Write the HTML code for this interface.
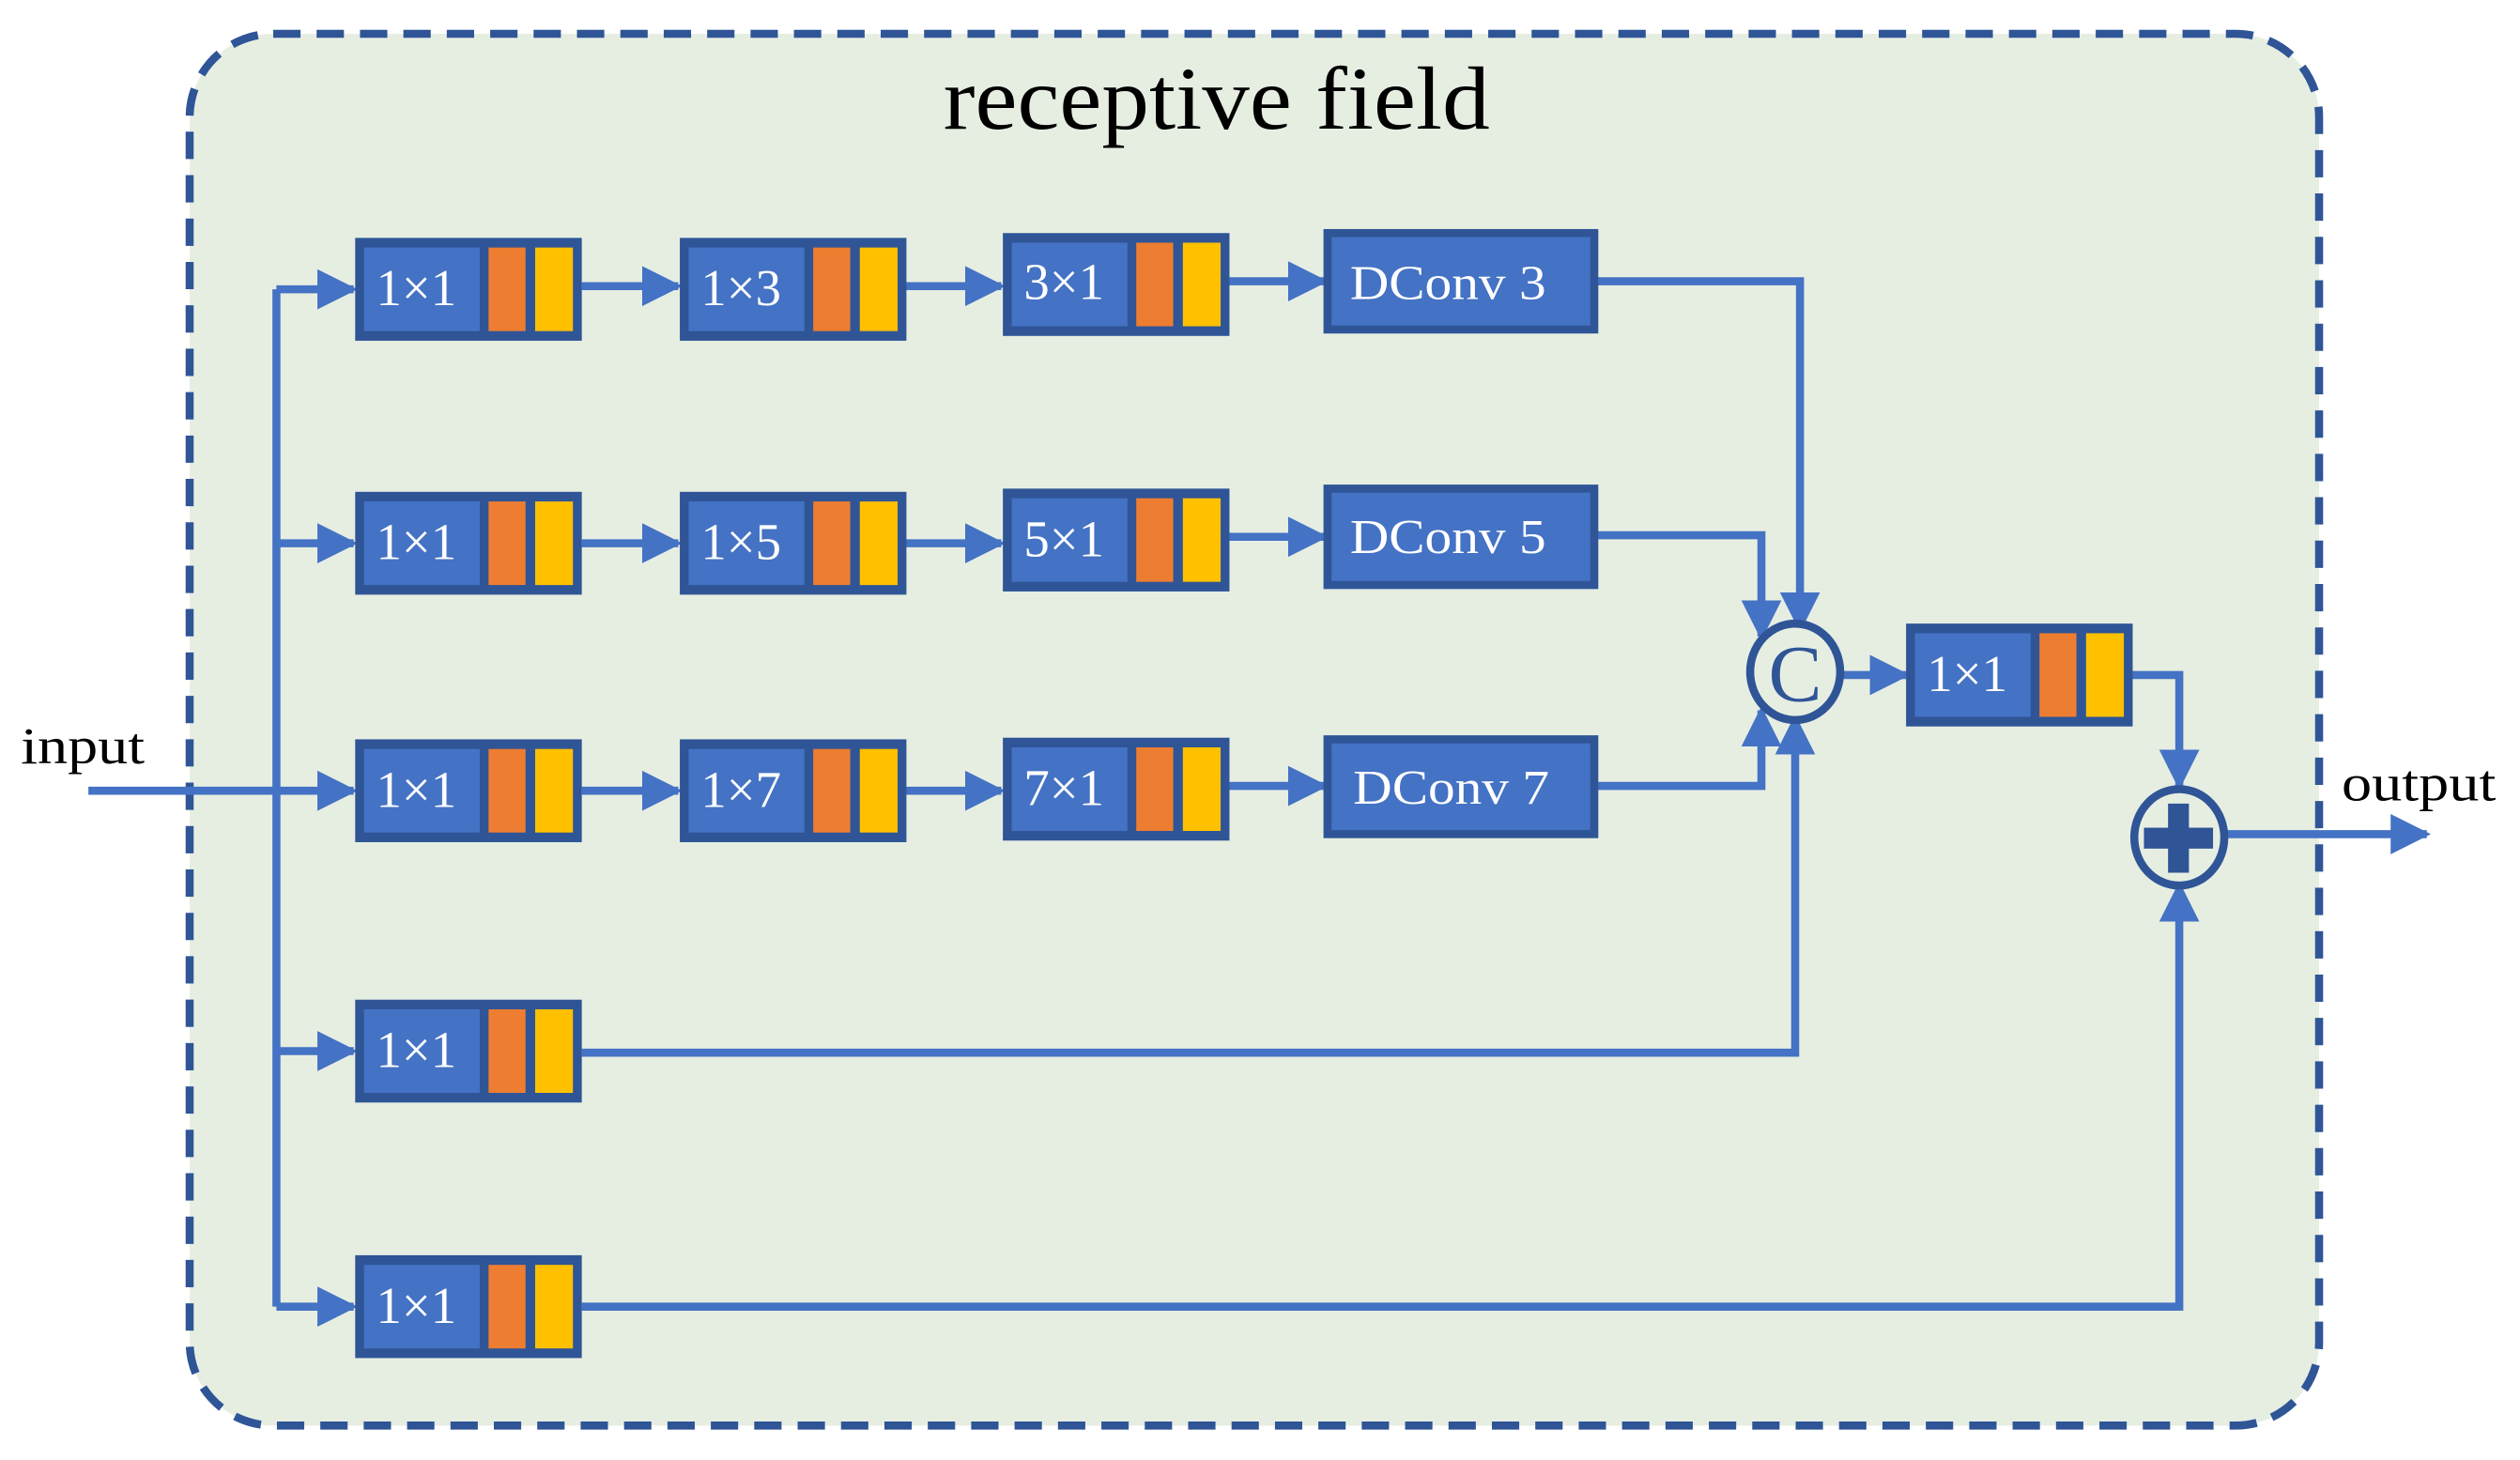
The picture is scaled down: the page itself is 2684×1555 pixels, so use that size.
<!DOCTYPE html>
<html><head><style>html,body{margin:0;padding:0;background:#fff}svg{display:block}</style></head>
<body>
<svg width="2684" height="1555" viewBox="0 0 1568 908.4" xmlns="http://www.w3.org/2000/svg" font-family="Liberation Serif, serif">
<defs>
<marker id="a" markerWidth="5" markerHeight="5" refX="4.5" refY="2.5" orient="auto" markerUnits="strokeWidth"><path d="M0,0 L5,2.5 L0,5 Z" fill="#4472C4"/></marker>
<g id="blk">
<rect x="0" y="0" width="141" height="64" fill="#2F5597"/>
<rect x="5.5" y="6" width="72" height="52" fill="#4472C4"/>
<rect x="83" y="6" width="23" height="52" fill="#ED7D31"/>
<rect x="112" y="6" width="23.5" height="52" fill="#FFC000"/>
</g>
</defs>
<rect x="118" y="21" width="1325" height="866" rx="52" fill="#E6EEE2" stroke="#2F5597" stroke-width="5" stroke-dasharray="17,10"/>
<text x="587" y="80" font-size="56" textLength="340" lengthAdjust="spacingAndGlyphs" fill="#000">receptive field</text>
<g fill="none" stroke="#4472C4" stroke-width="5">
<path d="M55,492 H220" marker-end="url(#a)"/>
<path d="M172,180 V813"/>
<path d="M172,180 H220" marker-end="url(#a)"/>
<path d="M172,338 H220" marker-end="url(#a)"/>
<path d="M172,654 H220" marker-end="url(#a)"/>
<path d="M172,813 H220" marker-end="url(#a)"/>
<path d="M362,178 H422" marker-end="url(#a)"/>
<path d="M563,178 H623" marker-end="url(#a)"/>
<path d="M765,175 H824" marker-end="url(#a)"/>
<path d="M362,338 H422" marker-end="url(#a)"/>
<path d="M563,338 H623" marker-end="url(#a)"/>
<path d="M765,334 H824" marker-end="url(#a)"/>
<path d="M362,492 H422" marker-end="url(#a)"/>
<path d="M563,492 H623" marker-end="url(#a)"/>
<path d="M765,489 H824" marker-end="url(#a)"/>
<path d="M993,175 H1120 V391" marker-end="url(#a)"/>
<path d="M993,333 H1096 V396" marker-end="url(#a)"/>
<path d="M993,489 H1096 V442" marker-end="url(#a)"/>
<path d="M362,655 H1117 V447" marker-end="url(#a)"/>
<path d="M1147,420 H1186" marker-end="url(#a)"/>
<path d="M1327,420 H1356 V489" marker-end="url(#a)"/>
<path d="M362,813 H1356 V551" marker-end="url(#a)"/>
<path d="M1386,519 H1510" marker-end="url(#a)"/>
</g>
<use href="#blk" x="221" y="148"/>
<use href="#blk" x="423" y="148"/>
<use href="#blk" x="624" y="145"/>
<use href="#blk" x="221" y="306"/>
<use href="#blk" x="423" y="306"/>
<use href="#blk" x="624" y="304"/>
<use href="#blk" x="221" y="460"/>
<use href="#blk" x="423" y="460"/>
<use href="#blk" x="624" y="459"/>
<use href="#blk" x="221" y="622"/>
<use href="#blk" x="221" y="781"/>
<use href="#blk" x="1186" y="388"/>
<g fill="#4472C4" stroke="#2F5597" stroke-width="5">
<rect x="826" y="145" width="166" height="60"/>
<rect x="826" y="304" width="166" height="60"/>
<rect x="826" y="460" width="166" height="59"/>
</g>
<g fill="#fff" font-size="32">
<text x="234" y="190">1×1</text><text x="436" y="190">1×3</text><text x="637" y="186">3×1</text>
<text x="234" y="348">1×1</text><text x="436" y="348">1×5</text><text x="637" y="346">5×1</text>
<text x="234" y="502">1×1</text><text x="436" y="502">1×7</text><text x="637" y="501">7×1</text>
<text x="234" y="664">1×1</text><text x="234" y="823">1×1</text><text x="1199" y="430">1×1</text>
<text x="840" y="186" font-size="30" textLength="122" lengthAdjust="spacingAndGlyphs">DConv 3</text>
<text x="840" y="344" font-size="30" textLength="122" lengthAdjust="spacingAndGlyphs">DConv 5</text>
<text x="842" y="500" font-size="30" textLength="122" lengthAdjust="spacingAndGlyphs">DConv 7</text>
</g>
<ellipse cx="1117" cy="418" rx="28" ry="30" fill="#E6EEE2" stroke="#2F5597" stroke-width="5"/>
<text x="1117" y="436" font-size="50" text-anchor="middle" fill="#2F5597">C</text>
<ellipse cx="1356" cy="521" rx="28" ry="30" fill="#E6EEE2" stroke="#2F5597" stroke-width="5"/>
<rect x="1349" y="500" width="13" height="43" fill="#2F5597"/>
<rect x="1334" y="515" width="43" height="13" fill="#2F5597"/>
<text x="13" y="475" font-size="32" textLength="77" lengthAdjust="spacingAndGlyphs" fill="#000">input</text>
<text x="1457" y="498" font-size="32" textLength="96" lengthAdjust="spacingAndGlyphs" fill="#000">output</text>
</svg>
</body></html>
